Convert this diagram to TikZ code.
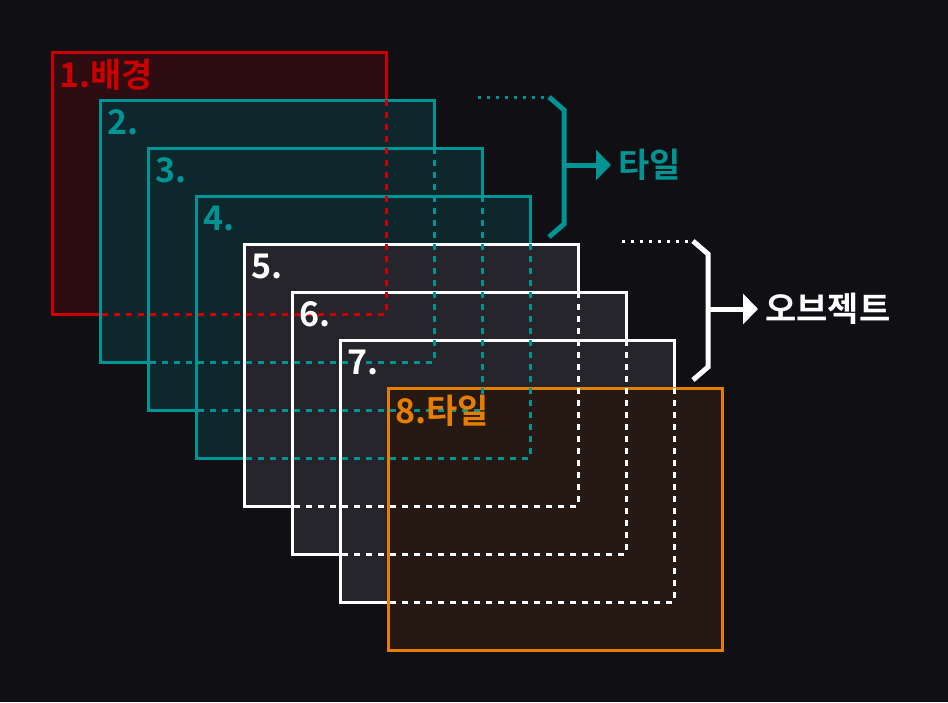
\documentclass[tikz,border=0pt]{standalone}
\usepackage{fontspec}
\usepackage{xcolor}
\setmainfont{Noto Sans CJK KR}[BoldFont={* Bold}]
\usetikzlibrary{positioning, calc, arrows.meta}

\definecolor{bgcol}{HTML}{0F0F14}
\definecolor{redline}{HTML}{CC0000}
\definecolor{redfill}{HTML}{2D0D12}
\definecolor{tealline}{HTML}{009494}
\definecolor{tealfill}{HTML}{0E272C}
\definecolor{greyfill}{HTML}{25252B}
\definecolor{orangeline}{HTML}{E67E00}
\definecolor{orangefill}{HTML}{261812}

\begin{document}
\begin{tikzpicture}[
    x=1pt, y=-1pt,
    layer/.style={rectangle, draw, line width=3pt, anchor=north west, inner sep=0pt, outer sep=0pt, minimum width=334pt, minimum height=262pt},
    tag/.style={anchor=base west, inner sep=0pt, font=\bfseries\fontsize{34}{34}\selectfont},
    hidden/.style={line width=3pt, dash pattern=on 6pt off 6pt},
    brace/.style={line width=5pt},
    pointer/.style={line width=5pt, -{Triangle[length=15pt, width=30pt]}, shorten >=7pt}
]
    \fill [bgcol] (0,0) rectangle (948,702);

    \node [layer, draw=redline, fill=redfill] (bg) at (52,52) {};
    \node [layer, draw=tealline, fill=tealfill] (tileA) at (100,100) {};
    \node [layer, draw=tealline, fill=tealfill] (tileB) at (148,148) {};
    \node [layer, draw=tealline, fill=tealfill] (tileC) at (196,196) {};
    \node [layer, draw=white, fill=greyfill] (objA) at (244,244) {};
    \node [layer, draw=white, fill=greyfill] (objB) at (292,292) {};
    \node [layer, draw=white, fill=greyfill] (objC) at (340,340) {};
    \node [layer, draw=orangeline, fill=orangefill] (top) at (388,388) {};

    % hidden edges
    \draw [hidden, redline] (bg.north east |- tileA.north) -- (bg.south east) -- (tileA.west |- bg.south);
    \draw [hidden, tealline] (tileA.north east |- tileB.north) -- (tileA.south east) -- (tileB.west |- tileA.south);
    \draw [hidden, tealline] (tileB.north east |- tileC.north) -- (tileB.south east) -- (tileC.west |- tileB.south);
    \draw [hidden, tealline] (tileC.north east |- objA.north) -- (tileC.south east) -- (objA.west |- tileC.south);
    \draw [hidden, white] (objA.north east |- objB.north) -- (objA.south east) -- (objB.west |- objA.south);
    \draw [hidden, white] (objB.north east |- objC.north) -- (objB.south east) -- (objC.west |- objB.south);
    \draw [hidden, white] (objC.north east |- top.north) -- (objC.south east) -- (top.west |- objC.south);

    \node [tag, text=redline] at ($(bg.north west)+(7,35)$) {1.배경};
    \node [tag, text=tealline] at ($(tileA.north west)+(7,34)$) {2.};
    \node [tag, text=tealline] at ($(tileB.north west)+(7,34)$) {3.};
    \node [tag, text=tealline] at ($(tileC.north west)+(7,34)$) {4.};
    \node [tag, text=white] at ($(objA.north west)+(7,34)$) {5.};
    \node [tag, text=white] at ($(objB.north west)+(7,34)$) {6.};
    \node [tag, text=white] at ($(objC.north west)+(7,34)$) {7.};
    \node [tag, text=orangeline] at ($(top.north west)+(7,35)$) {8.타일};

    % braces
    \coordinate (tileend) at (549,97);
    \coordinate (tilemid) at (564,165);
    \coordinate (objend) at (693,241);
    \coordinate (objmid) at (708,309);
    \draw [tealline, line width=3pt, dash pattern=on 3pt off 6pt] (tileA.north east |- tileend) ++(44,0) -- (tileend);
    \draw [brace, tealline] (tileend) -- ++(15,13) -- ($(tilemid)+(0,59)$) -- ++(-15,13);
    \draw [white, line width=3pt, dash pattern=on 3pt off 6pt] (objA.north east |- objend) ++(44,0) -- (objend);
    \draw [brace, white] (objend) -- ++(15,13) -- ($(objmid)+(0,58)$) -- ++(-15,13);

    \node [tag, text=tealline, anchor=west] (tilelabel) at (618,165) {타일};
    \node [tag, text=white, anchor=west] (objlabel) at (765,309) {오브젝트};
    \draw [pointer, tealline] (tilemid) -- (tilelabel.west);
    \draw [pointer, white] (objmid) -- (objlabel.west);
\end{tikzpicture}
\end{document}
